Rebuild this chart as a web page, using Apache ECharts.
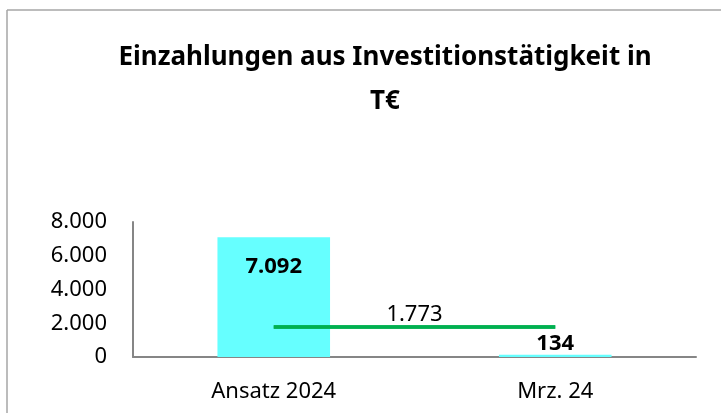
<!DOCTYPE html>
<html><head><meta charset="utf-8">
<script src="https://cdn.jsdelivr.net/npm/echarts@6/dist/echarts.min.js"></script>
<style>html,body{margin:0;padding:0;background:#fff}#c{width:721px;height:413px}</style>
</head><body><div id="c"></div>
<script>
const titleText = 'Einzahlungen aus Investitionstätigkeit in\nT€';
const categories = ['Ansatz 2024', 'Mrz. 24'];
const barValues = [7092, 134];
const lineValues = [1773, 1773];
const yTicks = [0, 2000, 4000, 6000, 8000];

const fmt = v => Math.round(v).toString().replace(/\B(?=(\d{3})+(?!\d))/g, '.');
const FONT = 'Noto Sans';
const GREEN = '#00b050';

const chart = echarts.init(document.getElementById('c'), null, {renderer: 'canvas'});
chart.setOption({
  animation: false,
  backgroundColor: '#fff',
  textStyle: {fontFamily: FONT},
  title: {
    text: titleText, left: 380, top: 31, textAlign: 'center',
    textStyle: {fontFamily: FONT, fontWeight: 'bold', fontSize: 26, lineHeight: 44, color: '#000'}
  },
  graphic: [
    {type: 'line', shape: {x1: 7, y1: 10, x2: 721, y2: 10}, style: {stroke: '#a6a6a6', lineWidth: 1.5}},
    {type: 'line', shape: {x1: 7, y1: 10, x2: 7, y2: 413}, style: {stroke: '#a6a6a6', lineWidth: 1.5}}
  ],
  grid: {left: 133, right: 25, top: 222, bottom: 56},
  xAxis: {
    type: 'category', data: categories,
    axisLine: {lineStyle: {color: '#868686', width: 2}},
    axisTick: {show: false},
    axisLabel: {fontFamily: FONT, fontSize: 22, color: '#000', margin: 24}
  },
  yAxis: {
    type: 'value', min: yTicks[0], max: yTicks[yTicks.length - 1], interval: 2000,
    axisLine: {show: true, lineStyle: {color: '#868686', width: 2}},
    axisTick: {show: false},
    splitLine: {show: false},
    axisLabel: {fontFamily: FONT, fontSize: 22, color: '#000', margin: 26, formatter: v => fmt(v)}
  },
  series: [
    {
      type: 'bar', barWidth: '40%',
      data: barValues.map(v => ({value: v, label: v < 1000 ? {position: 'top', distance: 0} : {}})),
      itemStyle: {color: '#66ffff'},
      label: {
        show: true, fontFamily: FONT, fontWeight: 'bold', fontSize: 22, color: '#000',
        position: 'insideTop', distance: 18,
        formatter: p => fmt(p.value)
      }
    },
    {
      type: 'line', data: lineValues, symbol: 'none',
      lineStyle: {color: GREEN, width: 3.5},
      markLine: {
        silent: true, symbol: 'none',
        lineStyle: {color: GREEN, width: 3.5, type: 'solid'},
        label: {show: true, position: 'middle', fontFamily: FONT, fontSize: 22, color: '#000', distance: 1,
                formatter: () => fmt(lineValues[0])},
        data: [[{coord: [0, lineValues[0]]}, {coord: [1, lineValues[1]]}]]
      }
    }
  ]
});
</script></body></html>
